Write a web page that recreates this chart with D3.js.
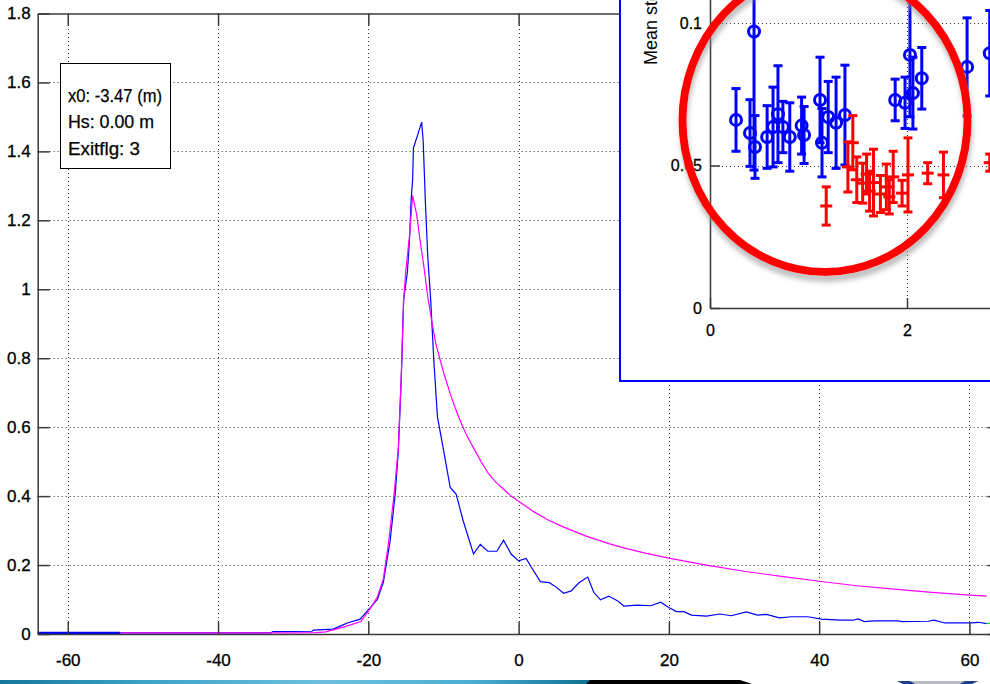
<!DOCTYPE html>
<html><head><meta charset="utf-8">
<script src="https://cdn.jsdelivr.net/npm/d3@7"></script>
<style>
html,body{margin:0;padding:0;background:#fff;overflow:hidden}
svg{display:block;font-family:"Liberation Sans",Arial,Helvetica,sans-serif}
</style></head><body>
<svg id="c" width="990" height="684"></svg>
<script>
// ---------- main chart data ----------
const xTicks = [-60,-40,-20,0,20,40,60];
const xTickLabels = ["-60","-40","-20","0","20","40","60"];
const yTicks = [0,0.2,0.4,0.6,0.8,1,1.2,1.4,1.6,1.8];
const yTickLabels = ["0","0.2","0.4","0.6","0.8","1","1.2","1.4","1.6","1.8"];

const measX = [-64,-33,-32.7,-27.5,-27.3,-24.7,-23.5,-22.8,-21.1,-20,-18.8,-18,-17.1,-16.4,-16,-15.6,-15.3,-14.8,-14.5,-14.3,-14.1,-14,-13.4,-12.9,-12.7,-12.4,-12.1,-11.7,-11.3,-10.8,-10,-9.1,-8.3,-7.4,-6,-5.1,-4.1,-2.9,-2,-1,0,1,1.8,2.9,4.1,5,6,7,8,9.2,10,10.9,12,13.2,14,15.8,17.6,18.9,20,21,22,23,25,26.8,28.3,30.3,31.8,33,34.7,36.3,38.5,40.3,42.9,44.5,45.2,46,47.3,50.5,51,54.5,55.3,56.7,60.3,61.2,62.3];
const measY = [0.003,0.003,0.007,0.008,0.011,0.014,0.025,0.032,0.043,0.07,0.1,0.15,0.27,0.41,0.535,0.75,0.97,1.05,1.15,1.26,1.32,1.41,1.45,1.485,1.43,1.25,1.1,0.97,0.8,0.63,0.535,0.425,0.405,0.33,0.232,0.26,0.24,0.24,0.272,0.232,0.212,0.219,0.19,0.152,0.149,0.136,0.118,0.125,0.148,0.165,0.121,0.099,0.11,0.096,0.081,0.084,0.082,0.092,0.077,0.065,0.065,0.055,0.052,0.058,0.053,0.064,0.055,0.057,0.047,0.05,0.05,0.043,0.04,0.04,0.044,0.036,0.038,0.038,0.036,0.037,0.04,0.032,0.032,0.034,0.03];

const modelX = [-53,-30,-27,-25.7,-23.3,-21,-19.7,-18.8,-18,-17.3,-16.6,-16,-15.6,-15.3,-15,-14.5,-14.1,-13.6,-13.1,-12.6,-12.1,-11.5,-11,-10,-9,-8,-7,-6,-5,-4,-3,-2,-1,0,2,4,6,9,12,14,17,20,25,30,35,40,45,50,55,60,62.3];
const modelY = [0.003,0.003,0.004,0.006,0.02,0.036,0.075,0.107,0.16,0.266,0.4,0.54,0.76,0.97,1.056,1.16,1.272,1.22,1.14,1.065,0.98,0.9,0.84,0.76,0.69,0.63,0.58,0.54,0.5,0.465,0.44,0.42,0.4,0.385,0.355,0.33,0.31,0.284,0.262,0.25,0.234,0.22,0.2,0.182,0.167,0.153,0.14,0.13,0.121,0.113,0.11];

const tailX = [62.3,64];
const tailY = [0.031,0.031];

const infoLines = ["x0: -3.47 (m)","Hs:  0.00 m","Exitflg:  3"];

// ---------- inset data ----------
const insetXTicks = [0,2];
const insetXTickLabels = ["0","2"];
const insetYTicks = [0,0.05,0.1];
const insetYTickLabels = ["0","0.05","0.1"];
const insetYLabel = "Mean std (m)";

const blueIx = [0.264,0.447,0.406,0.457,0.58,0.64,0.69,0.74,0.81,0.93,0.955,1.117,1.137,1.2,1.28,1.37,1.88,1.98,2.03,2.06,2.15,2.61,2.84];
const blueIy = [0.066,0.097,0.0614,0.0565,0.060,0.0635,0.068,0.0635,0.060,0.064,0.0607,0.073,0.058,0.067,0.065,0.0677,0.073,0.072,0.0888,0.0754,0.0806,0.0846,0.0894];
const blueIe = [0.011,0.0486,0.0117,0.011,0.011,0.014,0.017,0.009,0.012,0.010,0.010,0.015,0.012,0.0125,0.016,0.0175,0.0073,0.009,0.0217,0.0126,0.0108,0.0172,0.015];

const redIx = [1.18,1.40,1.45,1.49,1.55,1.59,1.62,1.66,1.73,1.79,1.82,1.86,1.95,2.01,2.21,2.37,2.84];
const redIy = [0.0358,0.0495,0.058,0.045,0.0438,0.047,0.041,0.044,0.040,0.0425,0.039,0.046,0.0403,0.0467,0.0473,0.0467,0.051];
const redIe = [0.0067,0.0088,0.0095,0.008,0.007,0.007,0.007,0.0117,0.0065,0.008,0.006,0.009,0.0045,0.013,0.0037,0.008,0.003];

// ---------- drawing ----------
const svg = d3.select("#c");
const axisColor = "#3a3a3a";

const x = d3.scaleLinear().domain([-64,64]).range([37.7,999.5]);
const y = d3.scaleLinear().domain([0,1.8]).range([634,13.5]);

// grid
const grid = svg.append("g").attr("stroke","#333").attr("stroke-width",1).attr("stroke-dasharray","1,3");
xTicks.forEach(v=>{
  const px = Math.round(x(v))+0.5;
  grid.append("line").attr("x1",px).attr("x2",px).attr("y1",y(0)).attr("y2",y(1.8));
});
yTicks.filter(v=>v>0 && v<1.8).forEach(v=>{
  const py = Math.round(y(v))+0.5;
  grid.append("line").attr("x1",x(-64)).attr("x2",x(64)).attr("y1",py).attr("y2",py);
});

// lines
const line = d3.line().x(d=>x(d[0])).y(d=>y(d[1]));
svg.append("path").datum(measX.filter(v=>v<=-53).concat([-53]).map((v,i)=>[v,0.003]))
  .attr("d",line).attr("fill","none").attr("stroke","#0000ff").attr("stroke-width",2.2);
svg.append("path").datum(measX.map((v,i)=>[v,measY[i]]))
  .attr("d",line).attr("fill","none").attr("stroke","#0000ff").attr("stroke-width",1.2);
svg.append("path").datum(modelX.map((v,i)=>[v,modelY[i]]))
  .attr("d",line).attr("fill","none").attr("stroke","#ff00ff").attr("stroke-width",1.2);
svg.append("path").datum(tailX.map((v,i)=>[v,tailY[i]]))
  .attr("d",line).attr("fill","none").attr("stroke","#00dd00").attr("stroke-width",1.2);

// axes
function styleAxis(g, fs){
  g.attr("font-family",null).attr("font-size",fs);
  g.selectAll(".domain").attr("stroke",axisColor).attr("stroke-width",1.5);
  g.selectAll(".tick line").attr("stroke",axisColor).attr("stroke-width",1.5);
  g.selectAll(".tick text").attr("fill","#000").attr("stroke","#000").attr("stroke-width",0.3);
}
styleAxis(svg.append("g").attr("transform",`translate(0,${y(0)})`)
  .call(d3.axisBottom(x).tickValues(xTicks).tickSizeInner(-12).tickSizeOuter(0).tickPadding(20)
  .tickFormat((d,i)=>xTickLabels[i])),17);
styleAxis(svg.append("g").attr("transform",`translate(0,${y(1.8)})`)
  .call(d3.axisTop(x).tickValues(xTicks).tickSizeInner(-12).tickSizeOuter(0).tickFormat("")),17);
styleAxis(svg.append("g").attr("transform",`translate(${x(-64)},0)`)
  .call(d3.axisLeft(y).tickValues(yTicks).tickSizeInner(-12).tickSizeOuter(0).tickPadding(7)
  .tickFormat((d,i)=>yTickLabels[i])),17);
styleAxis(svg.append("g").attr("transform",`translate(${x(64)},0)`)
  .call(d3.axisRight(y).tickValues(yTicks).tickSizeInner(-12).tickSizeOuter(0).tickFormat("")),17);

// info box
svg.append("rect").attr("x",60.5).attr("y",63.5).attr("width",110).attr("height",105)
  .attr("fill","#fff").attr("stroke","#000").attr("stroke-width",1);
const infoW = [94,86,72];
infoLines.forEach((t,i)=>{
  svg.append("text").attr("x",68).attr("y",101.5+i*26.8).attr("font-size",19)
    .attr("textLength",infoW[i]).attr("lengthAdjust","spacingAndGlyphs").attr("fill","#000")
    .attr("stroke","#000").attr("stroke-width",0.25).text(t);
});

// ---------- inset ----------
const ins = svg.append("g");
ins.append("rect").attr("x",620).attr("y",-10).attr("width",400).attr("height",391)
  .attr("fill","#fff").attr("stroke","#0000ff").attr("stroke-width",2);

const xi = d3.scaleLinear().domain([0,2.9]).range([710,710+98.5*2.9]);
const yi = d3.scaleLinear().domain([0,0.11]).range([308,308-2850*0.11]);

const ig = ins.append("g").attr("stroke","#333").attr("stroke-width",1).attr("stroke-dasharray","1,3");
insetYTicks.filter(v=>v>0).forEach(v=>{
  const py = Math.round(yi(v))+0.5;
  ig.append("line").attr("x1",xi(0)).attr("x2",xi(2.9)).attr("y1",py).attr("y2",py);
});
insetXTicks.filter(v=>v>0).forEach(v=>{
  const px = Math.round(xi(v))+0.5;
  ig.append("line").attr("x1",px).attr("x2",px).attr("y1",yi(0)).attr("y2",yi(0.11));
});

styleAxis(ins.append("g").attr("transform",`translate(0,${yi(0)})`)
  .call(d3.axisBottom(xi).tickValues(insetXTicks).tickSizeInner(-10).tickSizeOuter(0).tickPadding(17)
  .tickFormat((d,i)=>insetXTickLabels[i])),16);
styleAxis(ins.append("g").attr("transform",`translate(${xi(0)},0)`)
  .call(d3.axisLeft(yi).tickValues(insetYTicks).tickSizeInner(-10).tickSizeOuter(0).tickPadding(8)
  .tickFormat((d,i)=>insetYTickLabels[i])),16);

ins.append("text").attr("transform","translate(657,65) rotate(-90)")
  .attr("font-size",18).attr("fill","#000").text(insetYLabel);

// blue error bars with circles
const cap = 4.5;
const bg = ins.append("g").attr("stroke","#0000ff").attr("stroke-width",3).attr("fill","none");
blueIx.forEach((v,i)=>{
  const cx = xi(v), y0 = yi(blueIy[i]-blueIe[i]), y1 = yi(blueIy[i]+blueIe[i]);
  bg.append("line").attr("x1",cx).attr("x2",cx).attr("y1",y0).attr("y2",y1);
  bg.append("line").attr("x1",cx-cap).attr("x2",cx+cap).attr("y1",y0).attr("y2",y0);
  bg.append("line").attr("x1",cx-cap).attr("x2",cx+cap).attr("y1",y1).attr("y2",y1);
  bg.append("circle").attr("cx",cx).attr("cy",yi(blueIy[i])).attr("r",5.5);
});
// red error bars with plus
const rg = ins.append("g").attr("stroke","#ff0000").attr("stroke-width",3).attr("fill","none");
redIx.forEach((v,i)=>{
  const cx = xi(v), y0 = yi(redIy[i]-redIe[i]), y1 = yi(redIy[i]+redIe[i]), yc = yi(redIy[i]);
  rg.append("line").attr("x1",cx).attr("x2",cx).attr("y1",y0).attr("y2",y1);
  rg.append("line").attr("x1",cx-cap).attr("x2",cx+cap).attr("y1",y0).attr("y2",y0);
  rg.append("line").attr("x1",cx-cap).attr("x2",cx+cap).attr("y1",y1).attr("y2",y1);
  rg.append("line").attr("x1",cx-6).attr("x2",cx+6).attr("y1",yc).attr("y2",yc);
});

// highlight ellipse with shadow
const defs = svg.append("defs");
const f = defs.append("filter").attr("id","sh").attr("x","-20%").attr("y","-20%").attr("width","140%").attr("height","140%");
f.append("feDropShadow").attr("dx",1).attr("dy",6).attr("stdDeviation",2.5)
  .attr("flood-color","#888").attr("flood-opacity",0.55);
ins.append("ellipse").attr("cx",825).attr("cy",120.6).attr("rx",142.5).attr("ry",151.4)
  .attr("fill","none").attr("stroke","#ff0000").attr("stroke-width",8).attr("filter","url(#sh)");

// ---------- bottom strip (slide background) ----------
const lg = defs.append("linearGradient").attr("id","teal").attr("x1","0").attr("x2","1");
[[0,"#15789a"],[0.25,"#3ea3c6"],[0.55,"#6cc0de"],[0.8,"#4aaed0"],[1,"#0f7090"]].forEach(s=>
  lg.append("stop").attr("offset",s[0]).attr("stop-color",s[1]));
svg.append("rect").attr("x",0).attr("y",680).attr("width",592).attr("height",4).attr("fill","url(#teal)");
svg.append("polygon").attr("points","586,684 590,680 740,680 752,684").attr("fill","#000");
svg.append("polygon").attr("points","897,681 978,681 972,684 903,684").attr("fill","#b9bcc4");
svg.append("polygon").attr("points","897,681 910,681 915,684 903,684").attr("fill","#1f3f8f");
svg.append("polygon").attr("points","965,681 978,681 972,684 960,684").attr("fill","#1f3f8f");
</script></body></html>
